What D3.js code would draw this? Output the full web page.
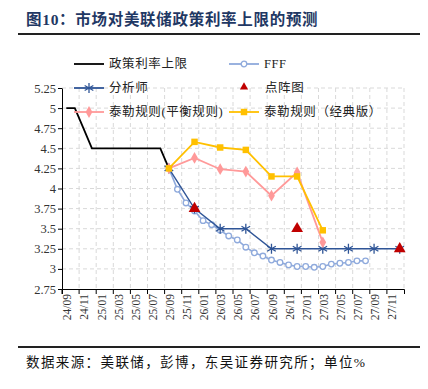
<!DOCTYPE html>
<html>
<head>
<meta charset="utf-8">
<script src="https://cdn.jsdelivr.net/npm/d3@7"></script>
<style>
  body { margin: 0; background: #fff; }
  svg { display: block; font-family: "Liberation Serif", "Noto Sans CJK SC", serif; }
</style>
</head>
<body>
<script>
// monthly categories on the x axis
var months = ["24/09","24/10","24/11","24/12","25/01","25/02","25/03","25/04","25/05","25/06",
  "25/07","25/08","25/09","25/10","25/11","25/12","26/01","26/02","26/03","26/04",
  "26/05","26/06","26/07","26/08","26/09","26/10","26/11","26/12","27/01","27/02",
  "27/03","27/04","27/05","27/06","27/07","27/08","27/09","27/10","27/11","27/12"];
var monthLabels = ["24/09","24/11","25/01","25/03","25/05","25/07","25/09","25/11","26/01","26/03",
  "26/05","26/07","26/09","26/11","27/01","27/03","27/05","27/07","27/09","27/11"];
var yTicks = [2.75, 3, 3.25, 3.5, 3.75, 4, 4.25, 4.5, 4.75, 5, 5.25];

var policyRate = [["24/09",5],["24/10",5],["24/11",4.75],["24/12",4.5],["25/01",4.5],["25/02",4.5],
  ["25/03",4.5],["25/04",4.5],["25/05",4.5],["25/06",4.5],["25/07",4.5],["25/08",4.5],["25/09",4.25]];
var fff = [["25/09",4.25],["25/10",3.99],["25/11",3.82],["25/12",3.72],["26/01",3.60],["26/02",3.55],
  ["26/03",3.48],["26/04",3.41],["26/05",3.36],["26/06",3.27],["26/07",3.20],["26/08",3.16],
  ["26/09",3.11],["26/10",3.08],["26/11",3.05],["26/12",3.03],["27/01",3.03],["27/02",3.02],
  ["27/03",3.03],["27/04",3.06],["27/05",3.07],["27/06",3.08],["27/07",3.10],["27/08",3.10]];
var analyst = [["25/09",4.25],["25/12",3.75],["26/03",3.5],["26/06",3.5],["26/09",3.25],
  ["26/12",3.25],["27/03",3.25],["27/06",3.25],["27/09",3.25],["27/12",3.25]];
var dotPlot = [["25/12",3.75],["26/12",3.5],["27/12",3.25]];
var taylorBalanced = [["25/09",4.25],["25/12",4.38],["26/03",4.24],["26/06",4.21],["26/09",3.91],
  ["26/12",4.2],["27/03",3.33]];
var taylorClassic = [["25/09",4.25],["25/12",4.58],["26/03",4.51],["26/06",4.48],["26/09",4.15],
  ["26/12",4.15],["27/03",3.48]];

var width = 428, height = 389;
var svg = d3.select("body").append("svg")
    .attr("width", width)
    .attr("height", height);

// title + rules
svg.append("text")
    .attr("x", 26).attr("y", 25)
    .attr("font-size", 15.5).attr("font-weight", "bold").attr("letter-spacing", 0.7)
    .attr("fill", "#1f3864")
    .text("图10：市场对美联储政策利率上限的预测");
svg.append("line").attr("x1", 18).attr("x2", 420).attr("y1", 34).attr("y2", 34)
    .attr("stroke", "#222").attr("stroke-width", 2);
svg.append("line").attr("x1", 18).attr("x2", 420).attr("y1", 347).attr("y2", 347)
    .attr("stroke", "#222").attr("stroke-width", 2);
svg.append("text")
    .attr("x", 26).attr("y", 367)
    .attr("font-size", 13.5).attr("letter-spacing", 1.4)
    .attr("fill", "#111")
    .text("数据来源：美联储，彭博，东吴证券研究所；单位%");

var x = d3.scaleBand().domain(months).range([62, 404]).padding(0);
var y = d3.scaleLinear().domain([2.75, 5.25]).range([289, 88]);
var bw = x.bandwidth();
var cx = function(m) { return x(m) + bw / 2; };

// grid
var grid = svg.append("g").attr("stroke", "#d9d9d9").attr("stroke-dasharray", "4,3");
grid.selectAll(".hg").data(yTicks.slice(1)).enter().append("line")
    .attr("x1", 62).attr("x2", 404)
    .attr("y1", d => y(d)).attr("y2", d => y(d));
grid.selectAll(".vg").data(monthLabels.slice(1).concat(["end"])).enter().append("line")
    .attr("x1", d => d == "end" ? 404 : x(d)).attr("x2", d => d == "end" ? 404 : x(d))
    .attr("y1", 88).attr("y2", 289);

// axes
var yAxis = svg.append("g")
    .attr("transform", "translate(62,0)")
    .call(d3.axisLeft(y).tickValues(yTicks).tickSize(4).tickSizeOuter(0).tickFormat(d => String(d)));
yAxis.selectAll("text").attr("font-size", 12.5).attr("fill", "#333")
    .attr("font-family", "Liberation Serif").attr("x", -6);

var xAxis = svg.append("g")
    .attr("transform", "translate(0,289)")
    .call(d3.axisBottom(x).tickValues(monthLabels).tickSize(5).tickSizeOuter(5));
xAxis.selectAll(".tick line").attr("transform", "translate(" + (-bw / 2) + ",0)");
xAxis.selectAll("text")
    .attr("transform", "rotate(-90)")
    .attr("x", -5).attr("y", 1).attr("dy", "0.35em")
    .attr("text-anchor", "end")
    .attr("font-size", 11.5).attr("fill", "#333")
    .attr("font-family", "Liberation Serif");
svg.selectAll(".domain, .tick line").attr("stroke", "#000");

var line = d3.line().x(d => cx(d[0])).y(d => y(d[1]));

// series
svg.append("path").datum(policyRate).attr("d", line)
    .attr("fill", "none").attr("stroke", "#000").attr("stroke-width", 1.8);

svg.append("path").datum(fff).attr("d", line)
    .attr("fill", "none").attr("stroke", "#8faadc").attr("stroke-width", 1.6);
svg.selectAll(".fff").data(fff.slice(1)).enter().append("circle")
    .attr("cx", d => cx(d[0])).attr("cy", d => y(d[1])).attr("r", 2.8)
    .attr("fill", "#fff").attr("stroke", "#8faadc").attr("stroke-width", 1.3);

var star = d3.symbol(d3.symbolAsterisk, 70);
svg.append("path").datum(analyst).attr("d", line)
    .attr("fill", "none").attr("stroke", "#2f5597").attr("stroke-width", 1.4);
svg.selectAll(".an").data(analyst).enter().append("path")
    .attr("transform", d => "translate(" + cx(d[0]) + "," + y(d[1]) + ")")
    .attr("d", star).attr("fill", "none").attr("stroke", "#2f5597").attr("stroke-width", 1.3);

var tri = d3.symbol(d3.symbolTriangle, 60);
svg.selectAll(".dp").data(dotPlot).enter().append("path")
    .attr("transform", d => "translate(" + cx(d[0]) + "," + y(d[1]) + ")")
    .attr("d", tri).attr("fill", "#c00000");

var diamond = d3.symbol(d3.symbolDiamond, 40);
svg.append("path").datum(taylorBalanced).attr("d", line)
    .attr("fill", "none").attr("stroke", "#ff9999").attr("stroke-width", 1.8);
svg.selectAll(".tb").data(taylorBalanced).enter().append("path")
    .attr("transform", d => "translate(" + cx(d[0]) + "," + y(d[1]) + ")")
    .attr("d", diamond).attr("fill", "#ff9999");

var square = d3.symbol(d3.symbolSquare, 42);
svg.append("path").datum(taylorClassic).attr("d", line)
    .attr("fill", "none").attr("stroke", "#ffc000").attr("stroke-width", 1.8);
svg.selectAll(".tc").data(taylorClassic).enter().append("path")
    .attr("transform", d => "translate(" + cx(d[0]) + "," + y(d[1]) + ")")
    .attr("d", square).attr("fill", "#ffc000");

// legend
var legendItems = [
    {name: "政策利率上限", color: "#000", line: true, sym: null, lx: 74, ly: 64},
    {name: "FFF", color: "#8faadc", line: true, sym: "circle", lx: 229, ly: 64},
    {name: "分析师", color: "#2f5597", line: true, sym: star, lx: 74, ly: 88},
    {name: "点阵图", color: "#c00000", line: false, sym: tri, lx: 229, ly: 88},
    {name: "泰勒规则(平衡规则)", color: "#ff9999", line: true, sym: diamond, lx: 74, ly: 112},
    {name: "泰勒规则（经典版）", color: "#ffc000", line: true, sym: square, lx: 229, ly: 112}
];
var lg = svg.selectAll(".lg").data(legendItems).enter().append("g")
    .attr("transform", d => "translate(" + d.lx + "," + d.ly + ")");
lg.filter(d => d.line).append("line")
    .attr("x1", 0).attr("x2", 30).attr("stroke", d => d.color).attr("stroke-width", 1.8);
lg.filter(d => d.sym == "circle").append("circle")
    .attr("cx", 15).attr("r", 2.8).attr("fill", "#fff").attr("stroke", d => d.color).attr("stroke-width", 1.3);
lg.filter(d => d.sym && d.sym != "circle").append("path")
    .attr("transform", d => d.sym == tri ? "translate(15,-1)scale(0.7)" : "translate(15,0)")
    .attr("d", d => d.sym())
    .attr("fill", d => d.sym == star ? "none" : d.color)
    .attr("stroke", d => d.sym == star ? d.color : "none")
    .attr("stroke-width", 1.3);
lg.append("text")
    .attr("x", d => d.sym == tri ? 36 : 35).attr("y", 0).attr("dy", "0.35em")
    .attr("font-size", 12.5).attr("letter-spacing", 0.6).attr("fill", "#222")
    .text(d => d.name);
</script>
</body>
</html>
